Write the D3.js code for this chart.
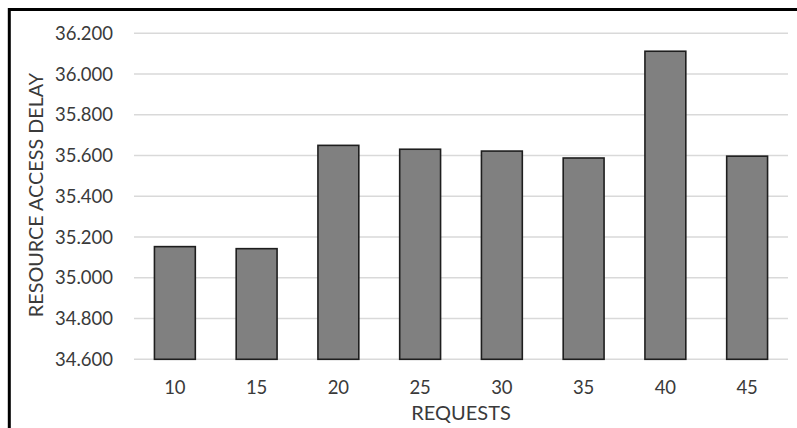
<!DOCTYPE html>
<html>
<head>
<meta charset="utf-8">
<script src="https://cdn.jsdelivr.net/npm/d3@7"></script>
<style>
  html, body { margin: 0; padding: 0; background: #fff; }
  svg { display: block; }
  text { font-family: Lato, "Open Sans", sans-serif; fill: #3a3a3a; }
</style>
</head>
<body>
<svg id="chart" width="797" height="428"></svg>
<script>
// Number of requests on the x axis
const requests = ["10", "15", "20", "25", "30", "35", "40", "45"];
// Resource access delay for each request count
const delays = [35.153, 35.143, 35.650, 35.631, 35.622, 35.588, 36.112, 35.597];
// Y-axis tick values
const yTicks = [34.6, 34.8, 35.0, 35.2, 35.4, 35.6, 35.8, 36.0, 36.2];
const xTitle = "REQUESTS";
const yTitle = "RESOURCE ACCESS DELAY";

const svg = d3.select("#chart");
const W = 797, H = 428;
const plot = { left: 134, right: 788, top: 33.3, bottom: 359.3 };

svg.append("rect").attr("width", W).attr("height", H).attr("fill", "#fff");

const x = d3.scaleBand()
  .domain(requests)
  .range([plot.left, plot.right])
  .paddingInner(0.5)
  .paddingOuter(0.25);

const y = d3.scaleLinear()
  .domain([34.6, 36.2])
  .range([plot.bottom, plot.top]);

// horizontal gridlines
svg.append("g")
  .selectAll("line")
  .data(yTicks)
  .join("line")
  .attr("x1", plot.left)
  .attr("x2", plot.right)
  .attr("y1", d => y(d))
  .attr("y2", d => y(d))
  .attr("stroke", "#d9d9d9")
  .attr("stroke-width", 1.5);

// y tick labels
const fmt = d3.format(".3f");
svg.append("g")
  .selectAll("text")
  .data(yTicks)
  .join("text")
  .attr("x", 113)
  .attr("y", d => y(d))
  .attr("dy", "0.36em")
  .attr("text-anchor", "end")
  .attr("font-size", 18.5)
  .text(d => fmt(d));

// bars
svg.append("g")
  .selectAll("rect")
  .data(delays)
  .join("rect")
  .attr("x", (d, i) => x(requests[i]))
  .attr("width", x.bandwidth())
  .attr("y", d => y(d))
  .attr("height", d => y.range()[0] - y(d))
  .attr("fill", "#808080")
  .attr("stroke", "#1e1e1e")
  .attr("stroke-width", 1.6);

// x tick labels
svg.append("g")
  .selectAll("text")
  .data(requests)
  .join("text")
  .attr("x", d => x(d) + x.bandwidth() / 2)
  .attr("y", 387)
  .attr("dy", "0.36em")
  .attr("text-anchor", "middle")
  .attr("font-size", 18.5)
  .text(d => d);

// axis titles
svg.append("text")
  .attr("x", (plot.left + plot.right) / 2)
  .attr("y", 413)
  .attr("dy", "0.36em")
  .attr("text-anchor", "middle")
  .attr("font-size", 20)
  .text(xTitle);

svg.append("text")
  .attr("transform", `translate(35.5,195) rotate(-90)`)
  .attr("dy", "0.36em")
  .attr("text-anchor", "middle")
  .attr("font-size", 19.8)
  .text(yTitle);

// outer frame (top and left edges)
svg.append("path")
  .attr("d", `M9.3,${H} V9.5 H${W}`)
  .attr("fill", "none")
  .attr("stroke", "#000")
  .attr("stroke-width", 3);
</script>
</body>
</html>
